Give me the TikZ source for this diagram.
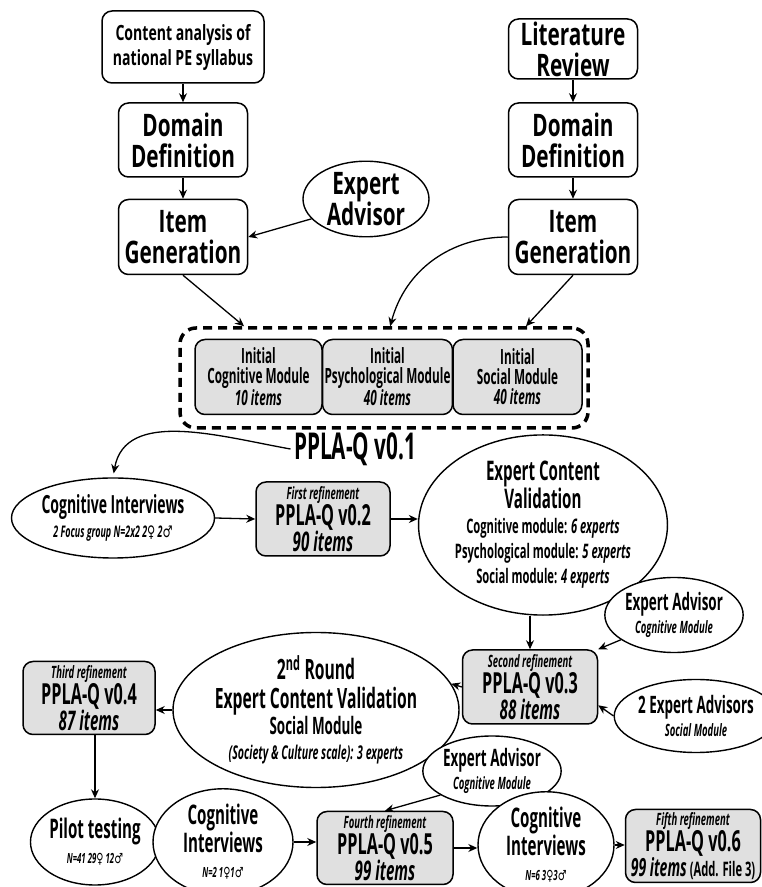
\documentclass[tikz,border=0pt]{standalone}
\usepackage{fontspec}
\setmainfont{Open Sans}[FakeStretch=0.56]
\newfontfamily\wide{Open Sans}[FakeStretch=0.67]
\newfontfamily\symf{DejaVu Sans}[FakeStretch=0.7]
\usetikzlibrary{shapes.geometric, arrows.meta, positioning, calc}
\newcommand{\fsz}[2]{\fontsize{#1}{#2}\selectfont}
\newcommand{\fem}{{\symf ♀}}
\newcommand{\mal}{{\symf ♂}}
\tikzset{
  bx/.style = {draw=black, fill=white, rounded corners=10pt, line width=1.5pt,
    align=center, inner sep=2pt},
  gbx/.style = {bx, fill=black!12},
  el/.style = {ellipse, draw=black, fill=white, line width=1.4pt, align=center,
    inner sep=0pt},
  grp/.style = {draw=black, dash pattern=on 9pt off 6pt, line width=3.5pt,
    rounded corners=16pt},
  seta/.style = {-{Stealth[length=9pt, width=8pt]}, line width=1.3pt},
  big/.style = {font=\wide\bfseries\fsz{31}{31}},
  mid/.style = {font=\bfseries\fsz{24}{23}},
  ver/.style = {font=\bfseries\fsz{29}{25}}
}

\begin{document}
\begin{tikzpicture}[x=1pt, y=1pt]
  \useasboundingbox (0,0) rectangle (762,887);
  % left column
  \node [bx, font=\wide\bfseries\fsz{21}{25}, minimum width=162pt, minimum height=72pt]
    (ca) at (183,840) {Content analysis of\\national PE syllabus};
  \node [bx, big, minimum width=129pt, minimum height=74pt] (dd1) at (183,747)
    {Domain\\Definition};
  \node [bx, big, minimum width=129pt, minimum height=75pt] (ig1) at (183,650)
    {Item\\Generation};
  \node [el, big, minimum width=126pt, minimum height=74pt] (ea) at (366,688)
    {Expert\\Advisor};
  % right column
  \node [bx, big, inner sep=0pt, minimum width=129pt, minimum height=60pt] (lr)
    at (573,838) {Literature\\Review};
  \node [bx, big, minimum width=129pt, minimum height=74pt] (dd2) at (573,747)
    {Domain\\Definition};
  \node [bx, big, minimum width=129pt, minimum height=75pt] (ig2) at (573,650)
    {Item\\Generation};
  % initial modules
  \node [grp, minimum width=408pt, minimum height=100pt] (grp) at (384,509) {};
  \node [gbx, font=\bfseries\fsz{21}{20}, minimum width=127pt, minimum height=75pt]
    (m1) at (258.5,510) {Initial\\Cognitive Module\\{\itshape 10 items}};
  \node [gbx, font=\bfseries\fsz{21}{20}, minimum width=129pt, minimum height=75pt]
    (m2) at (387.5,510) {Initial\\Psychological Module\\{\itshape 40 items}};
  \node [gbx, font=\bfseries\fsz{21}{20}, minimum width=129pt, minimum height=75pt]
    (m3) at (517.5,510) {Initial\\Social Module\\{\itshape 40 items}};
  \node [font=\bfseries\fsz{37}{37}] (v01) at (355,438) {PPLA-Q v0.1};
  % second row
  \node [el, font=\bfseries\fsz{25}{24}, minimum width=203pt, minimum height=80pt]
    (ci1) at (113,369)
    {Cognitive Interviews\\{\fsz{16}{16}\itshape 2 Focus group N=2x2 2\fem\ 2\mal}};
  \node [gbx, ver, minimum width=134pt, minimum height=74pt] (v02) at (323,368)
    {{\fsz{17}{17}\itshape First refinement}\\PPLA-Q v0.2\\{\fsz{27}{22}\itshape 90 items}};
  \node [el, font=\bfseries\fsz{27}{25}, minimum width=242pt, minimum height=144pt]
    (ecv) at (543,362)
    {Expert Content\\Validation\\
     {\fsz{20}{22}Cognitive module: {\itshape 6 experts}}\\
     {\fsz{20}{22}Psychological module: {\itshape 5 experts}}\\
     {\fsz{20}{22}Social module: {\itshape 4 experts}}};
  % third row
  \node [el, mid, minimum width=127pt, minimum height=75pt] (eac) at (674,272)
    {Expert Advisor\\{\fsz{17}{17}\itshape Cognitive Module}};
  \node [gbx, ver, minimum width=135pt, minimum height=74pt] (v03) at (530,200)
    {{\fsz{17}{17}\itshape Second refinement}\\PPLA-Q v0.3\\{\fsz{27}{22}\itshape 88 items}};
  \node [el, mid, minimum width=128pt, minimum height=73pt] (ea2) at (696,171)
    {2 Expert Advisors\\{\fsz{17}{17}\itshape Social Module}};
  \node [el, font=\bfseries\fsz{28}{29}, minimum width=228pt, minimum height=155pt]
    (r2) at (316,177)
    {2\textsuperscript{nd} Round\\Expert Content Validation\\[-3pt]
     {\fsz{24}{22}Social Module}\\[-4pt]
     {\fsz{19}{19}\itshape (Society \& Culture scale): 3 experts}};
  \node [gbx, ver, minimum width=132pt, minimum height=73pt] (v04) at (89,189)
    {{\fsz{17}{17}\itshape Third refinement}\\PPLA-Q v0.4\\{\fsz{27}{22}\itshape 87 items}};
  % bottom row
  \node [el, mid, minimum width=127pt, minimum height=70pt] (eac2) at (492,116)
    {Expert Advisor\\{\fsz{17}{17}\itshape Cognitive Module}};
  \node [el, font=\bfseries\fsz{27}{25}, minimum width=120pt, minimum height=86pt]
    (pil) at (95,45) {Pilot testing\\{\fsz{14}{14}\itshape N=41 29\fem\ 12\mal}};
  \node [el, font=\bfseries\fsz{27}{25}, minimum width=140pt, minimum height=86pt]
    (ci2) at (223,45) {Cognitive\\Interviews\\{\fsz{14}{14}\itshape N=2 1\fem 1\mal}};
  \node [gbx, ver, minimum width=136pt, minimum height=73pt] (v05) at (385,39)
    {{\fsz{17}{17}\itshape Fourth refinement}\\PPLA-Q v0.5\\{\fsz{27}{22}\itshape 99 items}};
  \node [el, font=\bfseries\fsz{27}{25}, minimum width=136pt, minimum height=83pt]
    (ci3) at (546,42) {Cognitive\\Interviews\\{\fsz{14}{14}\itshape N=6 3\fem 3\mal}};
  \node [gbx, ver, minimum width=135pt, minimum height=73pt] (v06) at (693,41)
    {{\fsz{17}{17}\itshape Fifth refinement}\\PPLA-Q v0.6\\
     {\fsz{20}{22}{\fsz{25}{22}\itshape 99 items} (Add. File 3)}};
  % connectors
  \draw [seta] (ca.south) -- (dd1.north);
  \draw [seta] (dd1.south) -- (ig1.north);
  \draw [seta] (lr.south) -- (dd2.north);
  \draw [seta] (dd2.south) -- (ig2.north);
  \draw [seta] (ea.200) -- (ig1.east);
  \draw [seta] (ig1.south) -- ($(grp.north west)!0.16!(grp.north east)$);
  \draw [seta] (ig2.west) to[out=180, in=75] ($(grp.north west)!0.515!(grp.north east)$);
  \draw [seta] (ig2.south) -- ($(grp.north west)!0.845!(grp.north east)$);
  \draw [seta, shorten >=4pt] (v01.west) to[out=170, in=80] (ci1.north);
  \draw [seta] (ci1.east) -- (v02.west);
  \draw [seta] (v02.east) -- (v02.east -| ecv.west);
  \draw [seta] (ecv.south -| v03.north) -- (v03.north);
  \draw [seta] (eac.205) -- (v03.north east);
  \draw [seta] (ea2.west) -- (v03.-15);
  \draw [seta] (v03.west) -- (r2.11);
  \draw [seta] (r2.west) -- (r2.west -| v04.east);
  \draw [seta] (v04.south -| pil.north) -- (pil.north);
  \draw [seta] (eac2.205) -- (v05.north);
  \draw [seta] (ci2.east) -- (ci2.east -| v05.west);
  \draw [seta] (v05.east) -- (v05.east -| ci3.west);
  \draw [seta] (ci3.east) -- (ci3.east -| v06.west);
\end{tikzpicture}
\end{document}
